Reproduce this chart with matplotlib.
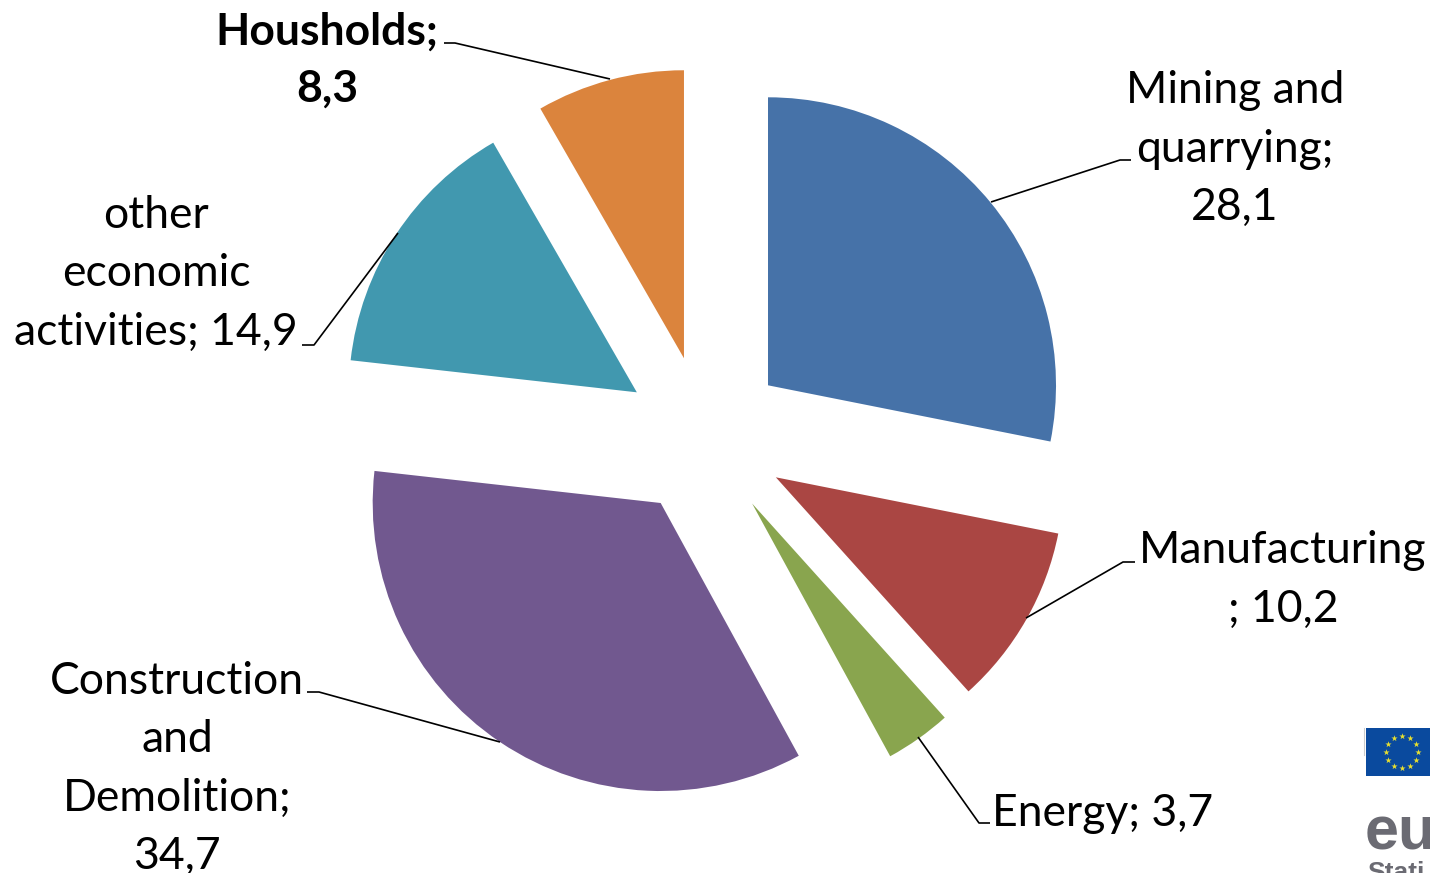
"""Waste by economic activity, exploded pie with leader lines."""

import matplotlib
matplotlib.use("Agg")
import matplotlib.pyplot as plt
from matplotlib.patches import Rectangle
import numpy as np

W, H = 1430, 873

categories = ["Mining and\nquarrying;\n28,1", "Manufacturing\n; 10,2", "Energy; 3,7",
              "Construction\nand\nDemolition;\n34,7", "other\neconomic\nactivities; 14,9",
              "Housholds;\n8,3"]
values = [28.1, 10.2, 3.7, 34.7, 14.9, 8.3]
colors = ["#4672A8", "#AA4643", "#89A54E", "#71588F", "#4198AF", "#DB843D"]

# label centre in pixels (y from top)
label_pos = [(1235, 149), (1283, 580), (1103, 813), (177, 769), (156, 274), (327, 60)]
label_bold = [False, False, False, False, False, True]

# leader lines in pixels (y from top)
leaders = [
    [(991, 202), (1120, 160), (1131, 160)],
    [(1026, 618), (1123, 562), (1135, 562)],
    [(918, 737), (979, 823), (990, 823)],
    [(500, 742), (319, 692), (307, 692)],
    [(398, 233), (314, 345), (302, 345)],
    [(610, 79), (455, 43), (444, 43)],
]


def flip(y):
    return H - y


plt.rcParams["font.family"] = ["Lato", "DejaVu Sans"]

fig = plt.figure(figsize=(W / 100, H / 100), dpi=100)
ax = fig.add_axes([0, 0, 1, 1])

radius = 288
# pie offsets the wedges by explode in data units, here pixels
explode = [81.5, 81.5, 81.5, 79.5, 81.5, 81.5]
ax.pie(values, colors=colors, explode=explode, startangle=90, counterclock=False,
       radius=radius, center=(705, flip(437)), normalize=True,
       wedgeprops={"linewidth": 0, "edgecolor": "none"})

ax.set_xlim(0, W)
ax.set_ylim(0, H)
ax.set_aspect("equal")
ax.axis("off")

for pts in leaders:
    xs = [p[0] for p in pts]
    ys = [flip(p[1]) for p in pts]
    ax.plot(xs, ys, color="black", linewidth=1.2, solid_capstyle="butt", clip_on=False)

for label, (x, y), bold in zip(categories, label_pos, label_bold):
    ax.text(x, flip(y), label, ha="center", va="center", fontsize=32, color="black",
            fontweight="bold" if bold else "normal", linespacing=1.53)

# logo, cropped by the right edge in the source
ax.add_patch(Rectangle((1366, flip(776)), 64, 48, facecolor="#0A4A9E", edgecolor="none"))
ax.plot([1363.5, 1363.5], [flip(728), flip(755)], color="#CCCCCC", linewidth=0.8)
star_angles = np.arange(12) * 2 * np.pi / 12
ax.scatter(1402 + 16 * np.sin(star_angles), flip(752) + 16 * np.cos(star_angles),
           marker="*", s=22, color="#E8E030", linewidths=0, zorder=3)
ax.text(1365, flip(849), "eu", fontsize=44, fontweight="bold", color="#6B6B73",
        family=["Liberation Sans", "DejaVu Sans"], ha="left", va="baseline", clip_on=True)
ax.text(1367, flip(880), "Stati", fontsize=19, fontweight="bold", color="#6B6B73",
        family=["Liberation Sans", "DejaVu Sans"], ha="left", va="baseline", clip_on=True)

fig.savefig("out.png", dpi=100)
